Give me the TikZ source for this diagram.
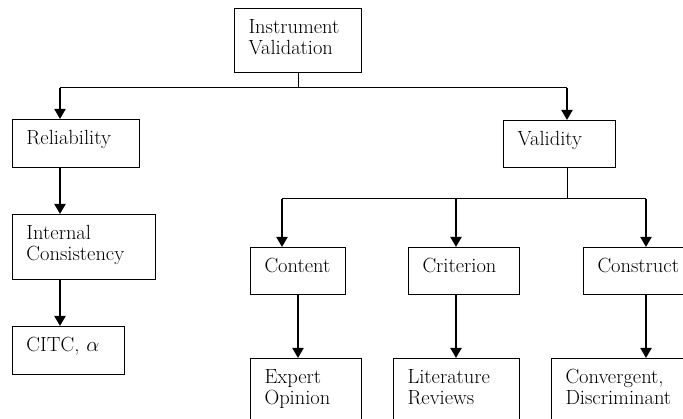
\documentclass[tikz,border=0pt]{standalone}
\usetikzlibrary{arrows.meta}
\tikzset{
  box/.style={draw, line width=1pt, anchor=north west, inner xsep=14pt, inner ysep=0pt,
    align=left, text height=25pt, font=\fontsize{20.5}{21}\selectfont},
  link/.style={line width=1pt},
  arr/.style={line width=2pt, -{Triangle[width=11pt,length=10pt]}},
}
\begin{document}
\begin{tikzpicture}[x=1pt, y=-1pt]
\useasboundingbox (0,0) rectangle (683,419);
% boxes, top to bottom, left to right
\node[box, text width=99pt, text depth=39pt] (inst) at (234,8) {Instrument\\Validation};
\node[box, text width=99pt, text depth=23pt] (rel) at (12,119) {Reliability};
\node[box, text width=84pt, text depth=22pt] (val) at (503,120) {Validity};
\node[box, text width=115pt, text depth=40pt] (int) at (12,214) {Internal\\Consistency};
\node[box, text width=84pt, text depth=23pt] (citc) at (12,326) {CITC, $\alpha$};
\node[box, text width=67pt, text depth=22pt] (con) at (250,247) {Content};
\node[box, text width=83pt, text depth=22pt] (cri) at (408,247) {Criterion};
\node[box, text width=82pt, text depth=22pt] (cons) at (583,247) {Construct};
\node[box, text width=83pt, text depth=45pt] (exp) at (250,358) {Expert\\Opinion};
\node[box, text width=98pt, text depth=45pt] (lit) at (393,358) {Literature\\Reviews};
\node[box, text width=112pt, text depth=45pt] (conv) at (551,358) {Convergent,\\Discriminant};
% branch points
\coordinate (jrel) at (60,88);
\coordinate (jval) at (567,88);
\coordinate (jcon) at (282,199);
\coordinate (jcri) at (456,199);
\coordinate (jcons) at (646,199);
\coordinate (xexp) at (298,0);
% top level
\draw[link] (inst.south) -- (inst.south |- jrel);
\draw[link] (jrel) -- (jval);
\draw[arr] (jrel) -- (jrel |- rel.north);
\draw[arr] (jval) -- (jval |- val.north);
% reliability branch
\draw[arr] (rel.south -| jrel) -- (int.north -| jrel);
\draw[arr] (int.south -| jrel) -- (citc.north -| jrel);
% validity branch
\draw[link] (val.south -| jval) -- (jval |- jcon);
\draw[link] (jcon) -- (jcons);
\draw[arr] (jcon) -- (jcon |- con.north);
\draw[arr] (jcri) -- (jcri |- cri.north);
\draw[arr] (jcons) -- (jcons |- cons.north);
\draw[arr] (con.south -| xexp) -- (exp.north -| xexp);
\draw[arr] (cri.south -| jcri) -- (lit.north -| jcri);
\draw[arr] (cons.south -| jcons) -- (conv.north -| jcons);
\end{tikzpicture}
\end{document}
